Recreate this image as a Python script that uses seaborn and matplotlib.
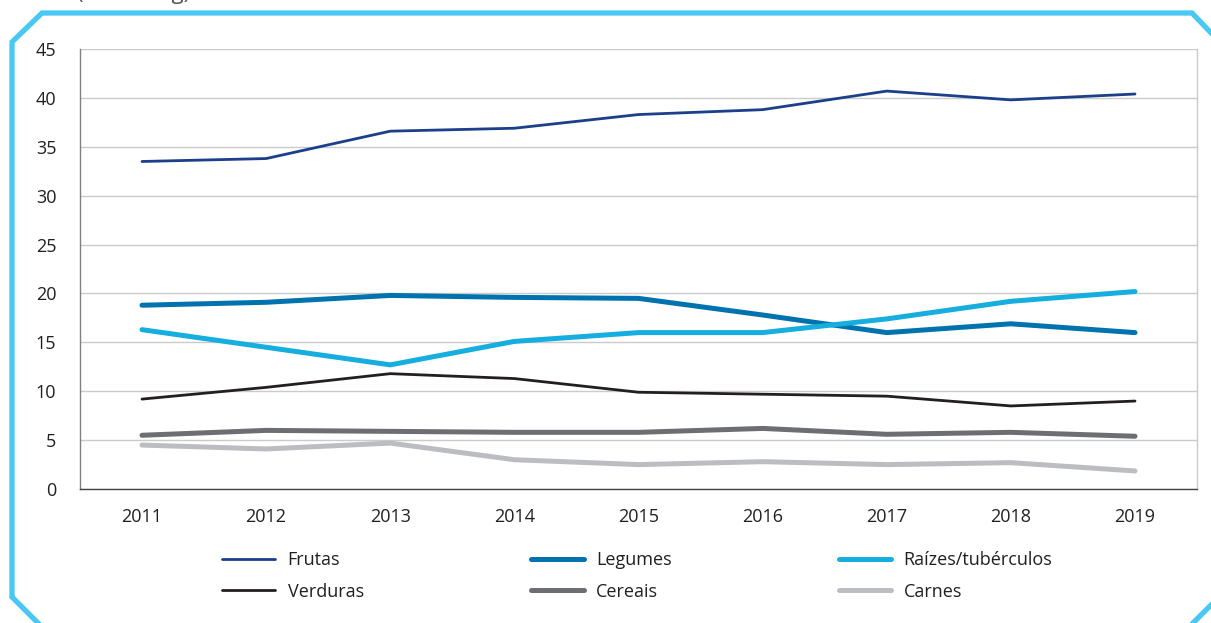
import matplotlib
matplotlib.use("Agg")
import matplotlib.pyplot as plt
from matplotlib.lines import Line2D
import seaborn as sns
import pandas as pd
import numpy as np

# ==================================================
# DATA
# ==================================================

years = ["2011", "2012", "2013", "2014", "2015", "2016", "2017", "2018", "2019"]

frutas = [33.5, 33.8, 36.6, 36.9, 38.3, 38.8, 40.7, 39.8, 40.4]
legumes = [18.8, 19.1, 19.8, 19.6, 19.5, 17.8, 16.0, 16.9, 16.0]
raizes = [16.3, 14.5, 12.7, 15.1, 16.0, 16.0, 17.4, 19.2, 20.2]
verduras = [9.2, 10.4, 11.8, 11.3, 9.9, 9.7, 9.5, 8.5, 9.0]
cereais = [5.5, 6.0, 5.9, 5.8, 5.8, 6.2, 5.6, 5.8, 5.4]
carnes = [4.5, 4.1, 4.7, 3.0, 2.5, 2.8, 2.5, 2.7, 1.85]

series_names = ["Frutas", "Legumes", "Raízes/tubérculos",
                "Verduras", "Cereais", "Carnes"]
series_values = [frutas, legumes, raizes, verduras, cereais, carnes]
series_colors = ["#1B3F8B", "#0073AE", "#16AEDE",
                 "#231F20", "#6D6E71", "#BCBDC0"]
series_widths = [2.0, 3.6, 3.6, 2.0, 3.6, 3.6]

y_ticks = [0, 5, 10, 15, 20, 25, 30, 35, 40, 45]

# ==================================================
# LONG FORM TABLE
# ==================================================

rows = []
for name, vals in zip(series_names, series_values):
    for i, v in enumerate(vals):
        rows.append({"pos": i, "serie": name, "valor": v})
df = pd.DataFrame(rows)

# ==================================================
# PLOT
# ==================================================

sns.set_theme(style="white")
plt.rcParams["font.family"] = ["Open Sans", "DejaVu Sans"]

fig = plt.figure(figsize=(12.11, 6.23), dpi=100)
ax = fig.add_axes([0.066, 0.215, 0.9225, 0.7063])

for name, color, lw in zip(series_names, series_colors, series_widths):
    sns.lineplot(
        data=df[df["serie"] == name],
        x="pos",
        y="valor",
        color=color,
        linewidth=lw,
        solid_capstyle="round",
        label=name,
        ax=ax
    )

ax.set_xlim(-0.5, len(years) - 0.5)
ax.set_ylim(0, 45)
ax.set_yticks(y_ticks)
ax.yaxis.grid(True, color="#CBCBCB", linewidth=1)
ax.set_axisbelow(True)

ax.set_xticks(range(len(years)))
ax.set_xticklabels(years)
ax.set_xticks(np.arange(-0.5, len(years), 1), minor=True)
ax.tick_params(axis="x", which="major", length=0, pad=14,
               labelsize=13, labelcolor="#231F20")
ax.tick_params(axis="x", which="minor", length=11, width=1,
               color="#444444", direction="out")
ax.tick_params(axis="y", length=13, width=1, color="#333333",
               labelsize=13, labelcolor="#231F20", pad=4)
ax.set_xlabel("")
ax.set_ylabel("")

ax.spines["top"].set_visible(False)
ax.spines["right"].set_color("#CBCBCB")
ax.spines["left"].set_color("#808080")
ax.spines["bottom"].set_color("#444444")
for s in ax.spines.values():
    s.set_linewidth(1)

# legend in 3 columns, row-wise order
handles, labels = ax.get_legend_handles_labels()
order = [0, 3, 1, 4, 2, 5]
leg = ax.legend(
    [handles[i] for i in order],
    [labels[i] for i in order],
    ncol=3,
    loc="upper left",
    bbox_to_anchor=(0.113, -0.104),
    frameon=False,
    fontsize=13,
    handlelength=2.93,
    handletextpad=0.68,
    columnspacing=9.25,
    labelspacing=0.75
)
for t in leg.get_texts():
    t.set_color("#231F20")

# decorative frame
W, H = 1211, 623
pts_top = [(12, 597), (12, 42), (42, 13), (1192, 13), (1215, 37)]
pts_bottom_left = [(12, 597), (40, 625)]
pts_bottom_right = [(1191, 625), (1215, 601)]
for pts in [pts_top, pts_bottom_left, pts_bottom_right]:
    xs = [p[0] / W for p in pts]
    ys = [1 - p[1] / H for p in pts]
    fig.add_artist(Line2D(xs, ys, color="#48C8F2", linewidth=3.8,
                          transform=fig.transFigure, solid_joinstyle="miter"))

# unit text cut off at the top, as in the source page
fig.text(77 / W, 1 + 1 / H, "(em mil kg)", fontsize=16,
         color="#555555", va="baseline", ha="left")

fig.savefig("out.png", dpi=100)
